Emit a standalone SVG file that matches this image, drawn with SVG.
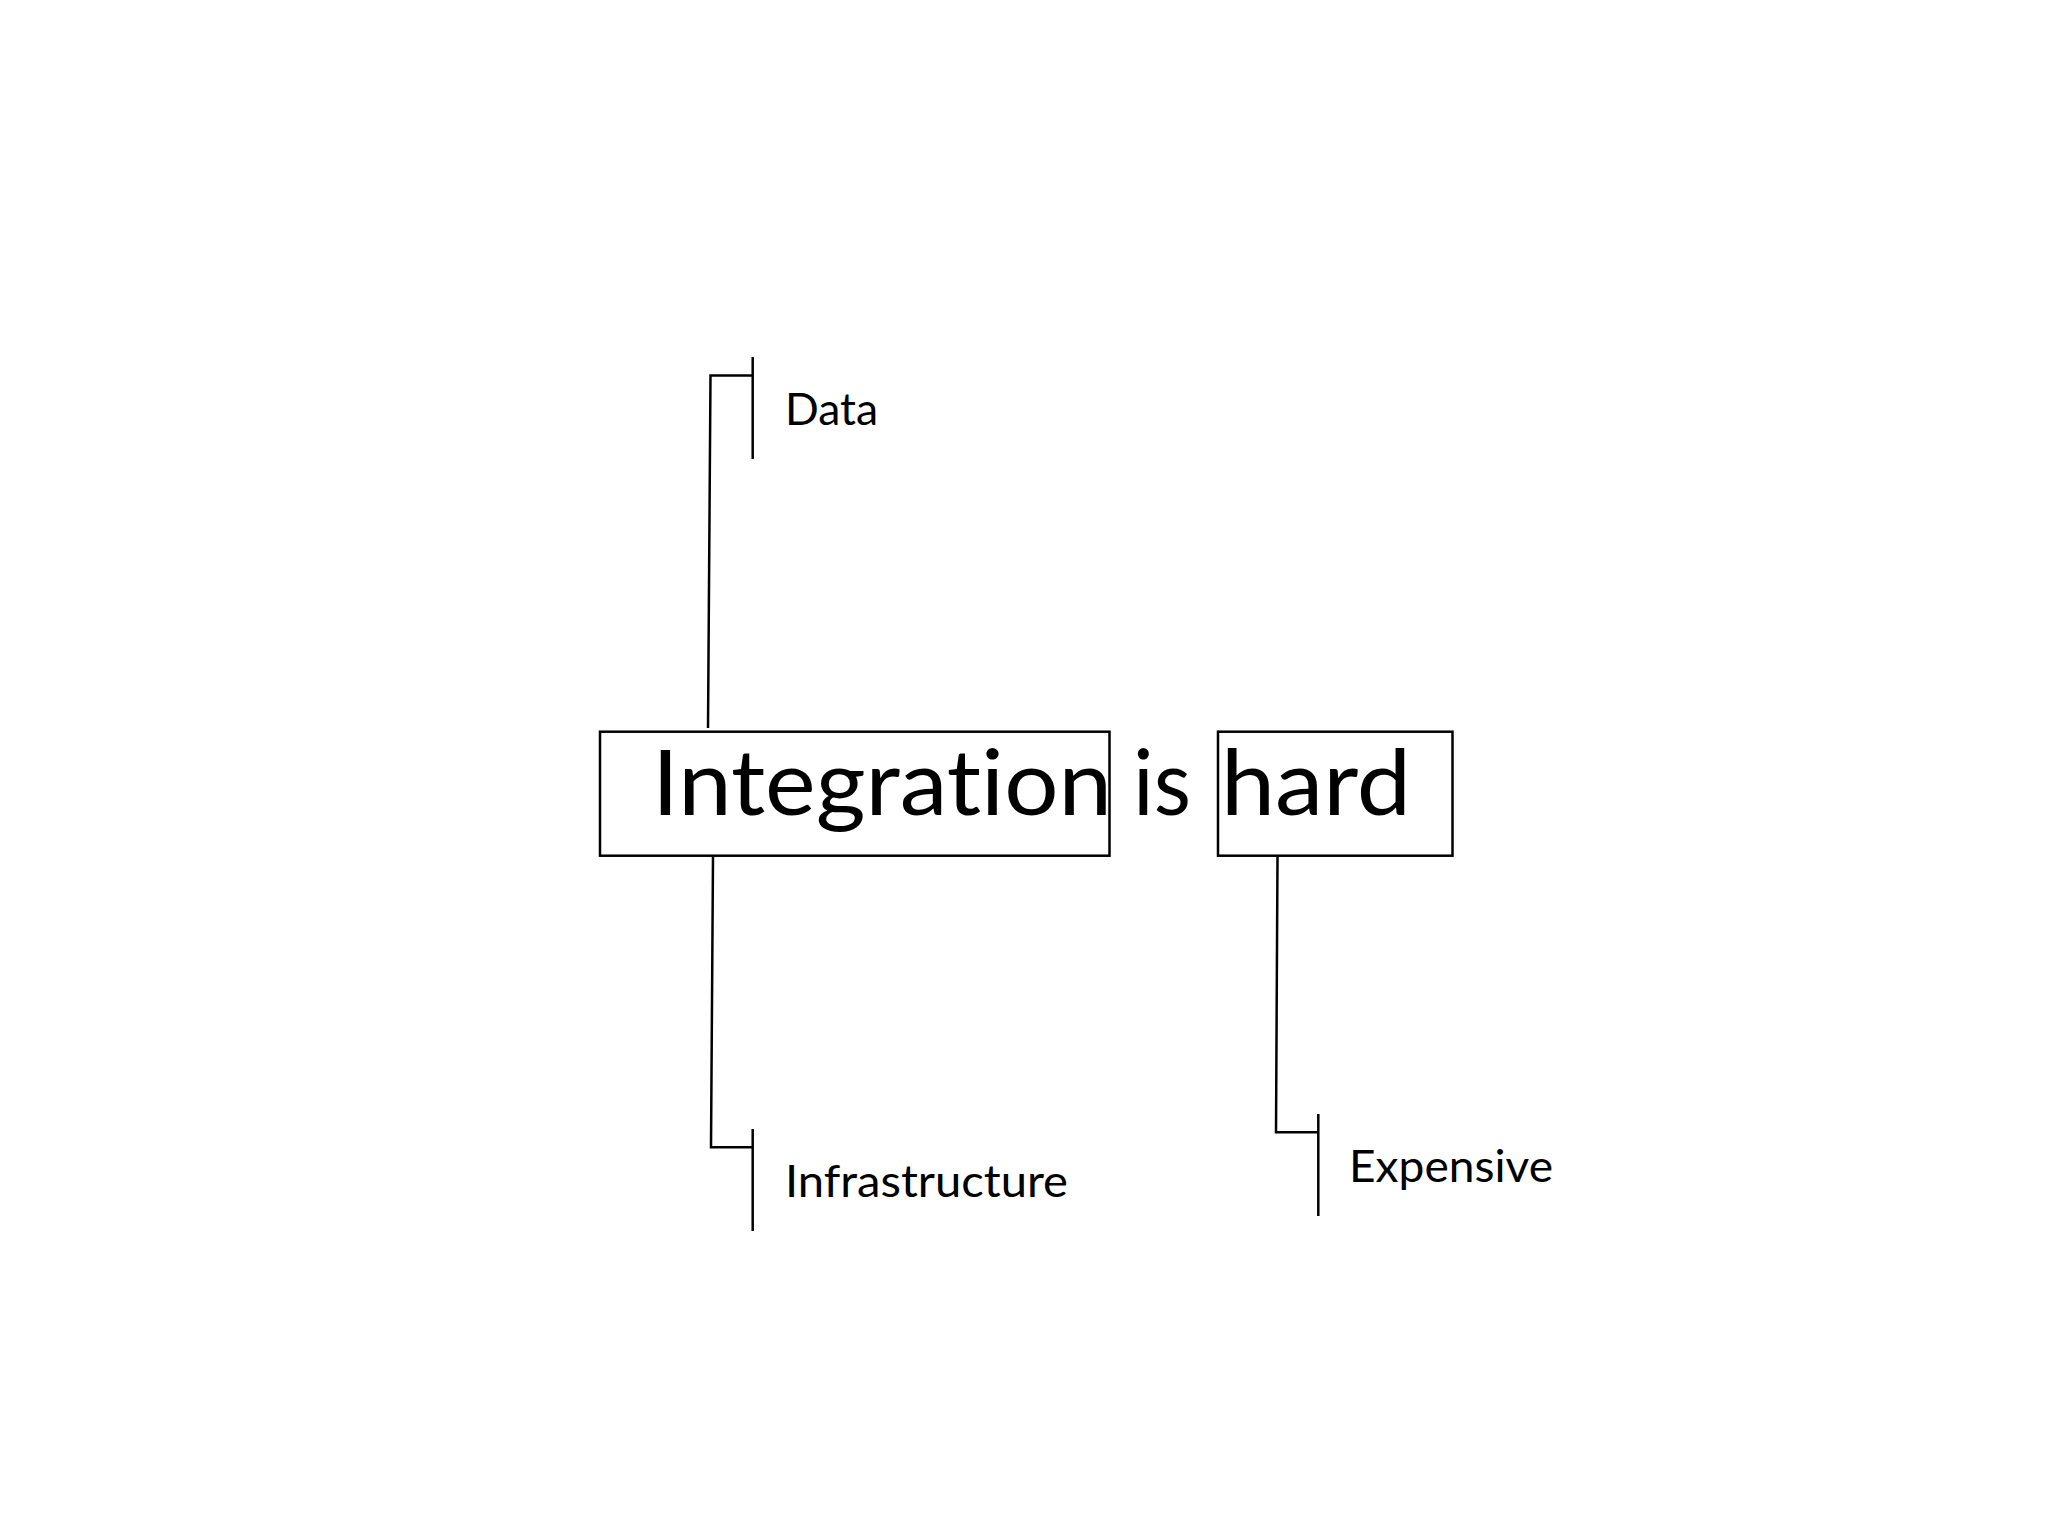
<svg xmlns="http://www.w3.org/2000/svg" width="2048" height="1536" viewBox="0 0 2048 1536">
<style>
.box{fill:none;stroke:#000;stroke-width:2.5}
.bar{stroke:#000;stroke-width:2.5;fill:none}
.conn{fill:none;stroke:#000;stroke-width:2.5;stroke-linejoin:miter}
.big{font-family:Lato,"Open Sans","Liberation Sans",sans-serif;font-size:92px;fill:#000;font-variant-ligatures:none}
.lbl{font-family:Lato,"Open Sans","Liberation Sans",sans-serif;font-size:45px;fill:#000;font-variant-ligatures:none}
</style>
<rect width="2048" height="1536" fill="#fff"/>
<g id="connectors">
<polyline class="conn" points="708,728 710.5,375.5 752.7,375.5"/>
<polyline class="conn" points="713,857 711,1147.3 752.7,1147.3"/>
<polyline class="conn" points="1277.5,857 1276,1132.3 1318.3,1132.3"/>
</g>
<g id="node-integration">
<rect class="box" x="600" y="731.7" width="509.5" height="124"/>
<text class="big" x="652" y="815" textLength="460" lengthAdjust="spacingAndGlyphs">Integration</text>
</g>
<g id="node-is">
<text class="big" x="1133" y="815" textLength="58" lengthAdjust="spacingAndGlyphs">is</text>
</g>
<g id="node-hard">
<rect class="box" x="1218" y="731.7" width="234.5" height="124"/>
<text class="big" x="1221" y="815" textLength="190" lengthAdjust="spacingAndGlyphs">hard</text>
</g>
<g id="node-data">
<line class="bar" x1="752.7" y1="357" x2="752.7" y2="459"/>
<text class="lbl" x="785" y="425" textLength="93" lengthAdjust="spacingAndGlyphs">Data</text>
</g>
<g id="node-infrastructure">
<line class="bar" x1="752.7" y1="1129" x2="752.7" y2="1231"/>
<text class="lbl" x="785" y="1197" textLength="283" lengthAdjust="spacingAndGlyphs">Infrastructure</text>
</g>
<g id="node-expensive">
<line class="bar" x1="1318.3" y1="1114" x2="1318.3" y2="1216"/>
<text class="lbl" x="1349" y="1181.7" textLength="204" lengthAdjust="spacingAndGlyphs">Expensive</text>
</g>
</svg>
